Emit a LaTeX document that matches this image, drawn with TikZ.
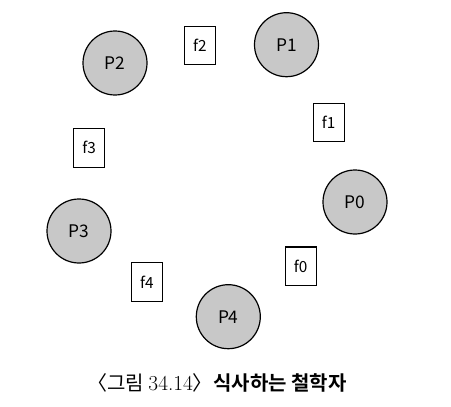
\documentclass[tikz,border=0pt]{standalone}
\usepackage{fontspec}
\setmainfont{Noto Sans}
\newfontfamily\krfont{Noto Sans CJK KR}
\newfontfamily\krbold{Noto Sans CJK KR Bold}
\newfontfamily\lmfont{Latin Modern Roman}
\definecolor{philfill}{HTML}{C8C8C8}
\begin{document}
\begin{tikzpicture}[x=0.75pt,y=-0.75pt,
  phil/.style={circle,draw=black,line width=0.9pt,fill=philfill,minimum size=48pt,inner sep=0pt,font=\krfont\fontsize{13}{15}\selectfont},
  fork/.style={rectangle,draw=black,line width=0.8pt,fill=white,minimum width=23pt,minimum height=29pt,inner sep=0pt,font=\krfont\fontsize{11.5}{13}\selectfont}]
\useasboundingbox (0,0) rectangle (451,407);
\node[phil] (P0) at (355,202) {P0};
\node[phil] (P1) at (286.5,44.7) {P1};
\node[phil] (P2) at (115,63) {P2};
\node[phil] (P3) at (79,231) {P3};
\node[phil] (P4) at (228.3,316.7) {P4};
\node[fork] (f0) at (300.7,266.3) {f0};
\node[fork] (f1) at (328.7,122.5) {f1};
\node[fork] (f2) at (199.8,45.5) {f2};
\node[fork] (f3) at (89.2,147.7) {f3};
\node[fork] (f4) at (146.8,282.2) {f4};
\node[inner sep=0pt,font=\fontsize{15}{17}\selectfont] (cap) at (217,383) {\krfont〈그림 {\lmfont\fontsize{16}{18}\selectfont 34.14}〉\kern-0.2em\ \krbold 식사하는 철학자};
\end{tikzpicture}
\end{document}
